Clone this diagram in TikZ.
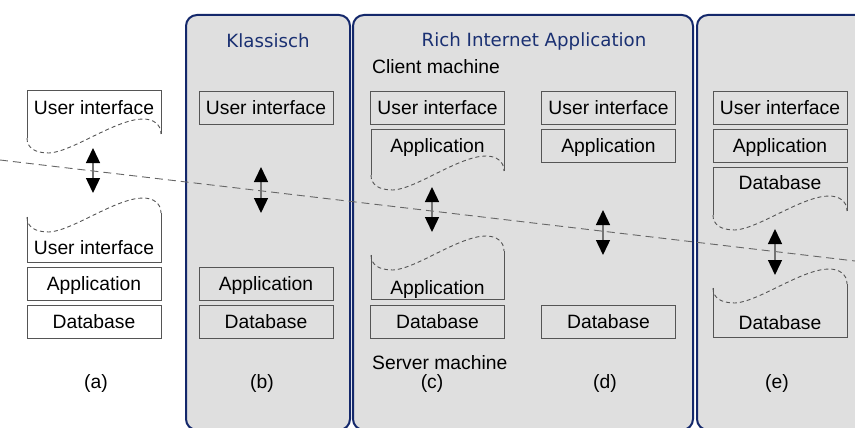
\documentclass[tikz,border=0pt]{standalone}
\usepackage{fontspec}
\setmainfont{Liberation Sans}
\newfontfamily\titlefont{DejaVu Sans}
\usetikzlibrary{arrows.meta}

\definecolor{panelfill}{HTML}{DFDFDF}
\definecolor{navy}{HTML}{14286B}
\definecolor{titleblue}{HTML}{1A3072}
\definecolor{frame}{HTML}{555555}

\tikzset{
  panel/.style={draw=navy, line width=2pt, fill=panelfill, rounded corners=11pt},
  layer/.style={draw=frame, line width=0.9pt, minimum width=134pt, minimum height=33pt,
    inner sep=0pt, text height=13.8pt, text depth=0pt, font=\fontsize{19.3}{21}\selectfont},
  lbl/.style={font=\fontsize{19.3}{21}\selectfont, inner sep=0pt, anchor=base},
  ttl/.style={font=\titlefont\fontsize{18.2}{20}\selectfont, text=titleblue, inner sep=0pt, anchor=base},
  side/.style={draw=frame, line width=0.9pt},
  tear/.style={draw=frame, line width=0.9pt, dash pattern=on 4pt off 3pt},
  link/.style={draw=black!55, line width=1.4pt,
    {Triangle[width=14pt,length=15pt,color=black]}-{Triangle[width=14pt,length=15pt,color=black]}},
  cut/.style={draw=black!60, line width=0.9pt, dash pattern=on 8pt off 5pt},
}

% torn edge: #1 left x, #2 right x, #3 y where the left side ends
\newcommand{\tornwave}[3]{%
  \draw[tear] (#1,#3) .. controls (#1,#3+10) and (#1+8,#3+15) .. (#1+22,#3+15)
    .. controls (#1+45,#3+14) and (#2-45,#3-19) .. (#2-18,#3-19)
    .. controls (#2-8,#3-19) and (#2,#3-14) .. (#2,#3-4);}
% upper half of a split layer: #1 left, #2 right, #3 top, #4 torn edge
\newcommand{\tornupper}[4]{%
  \draw[side] (#1,#4) -- (#1,#3) -- (#2,#3) -- (#2,#4-4);
  \tornwave{#1}{#2}{#4}}
% lower half of a split layer: #1 left, #2 right, #3 torn edge, #4 bottom
\newcommand{\tornlower}[4]{%
  \draw[side] (#1,#3) -- (#1,#4) -- (#2,#4) -- (#2,#3-4);
  \tornwave{#1}{#2}{#3}}

\begin{document}
\begin{tikzpicture}[x=1pt, y=-1pt]
\useasboundingbox (0,0) rectangle (855,428);

% panels
\draw[panel] (186,15) rectangle (350,430);
\draw[panel] (353,15) rectangle (693,430);
\draw[panel] (697,15) rectangle (880,430);

\node[ttl] (tKlassisch) at (268,48) {Klassisch};
\node[ttl] (tRia) at (534,47) {Rich Internet Application};
\node[lbl, anchor=base west] (tClient) at (372,74) {Client machine};
\node[lbl, anchor=base west] (tServer) at (372,369) {Server machine};

% (a) remote user interface
\tornupper{27}{161}{90}{138}
\node[lbl] (aUItop) at (94,114) {User interface};
\tornlower{27}{161}{217}{262}
\node[lbl] (aUIbot) at (94,254) {User interface};
\node[layer] (aApp) at (94,283.5) {Application};
\node[layer] (aDB) at (94,321.5) {Database};

% (b) classic
\node[layer] (bUI) at (266,107.5) {User interface};
\node[layer] (bApp) at (266,283.5) {Application};
\node[layer] (bDB) at (266,321.5) {Database};

% (c) distributed application
\node[layer] (cUI) at (437.5,107.5) {User interface};
\tornupper{371}{504}{129}{175}
\node[lbl] (cApptop) at (437.5,152) {Application};
\tornlower{371}{504}{255}{299}
\node[lbl] (cAppbot) at (437.5,294) {Application};
\node[layer] (cDB) at (437.5,321.5) {Database};

% (d) remote database
\node[layer] (dUI) at (608.5,107.5) {User interface};
\node[layer] (dApp) at (608.5,145.5) {Application};
\node[layer] (dDB) at (608.5,321.5) {Database};

% (e) distributed database
\node[layer] (eUI) at (780,107.5) {User interface};
\node[layer] (eApp) at (780,145.5) {Application};
\tornupper{713}{847}{167}{215}
\node[lbl] (eDBtop) at (780,189) {Database};
\tornlower{713}{847}{288}{337}
\node[lbl] (eDBbot) at (780,329) {Database};

% network boundary
\coordinate (cutL) at (0,160);
\coordinate (cutR) at (855,261);
\draw[cut] (cutL) -- (cutR);

% communication arrows
\coordinate (aT) at (93,148);  \coordinate (aB) at (93,193);
\coordinate (bT) at (261,167); \coordinate (bB) at (261,213);
\coordinate (cT) at (432,187); \coordinate (cB) at (432,232);
\coordinate (dT) at (603,210); \coordinate (dB) at (603,255);
\coordinate (eT) at (775,229); \coordinate (eB) at (775,275);
\draw[link] (aT) -- (aB);
\draw[link] (bT) -- (bB);
\draw[link] (cT) -- (cB);
\draw[link] (dT) -- (dB);
\draw[link] (eT) -- (eB);

% captions
\node[lbl] (capA) at (96,388) {(a)};
\node[lbl] (capB) at (262,388) {(b)};
\node[lbl] (capC) at (432,388) {(c)};
\node[lbl] (capD) at (605,388) {(d)};
\node[lbl] (capE) at (777,388) {(e)};
\end{tikzpicture}
\end{document}
